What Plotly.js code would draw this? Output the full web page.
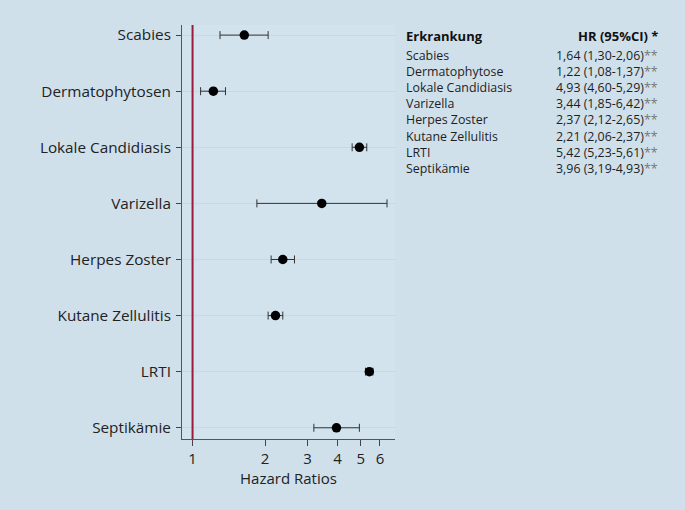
<!DOCTYPE html>
<html>
<head>
<meta charset="utf-8">
<script src="https://cdn.plot.ly/plotly-3.0.1.min.js"></script>
<style>html,body{margin:0;padding:0;background:#cfe0eb;}#chart{width:685px;height:510px;}</style>
</head>
<body>
<div id="chart"></div>
<script>
var categories = ["Scabies","Dermatophytosen","Lokale Candidiasis","Varizella","Herpes Zoster","Kutane Zellulitis","LRTI","Septikämie"];
var tableNames = ["Scabies","Dermatophytose","Lokale Candidiasis","Varizella","Herpes Zoster","Kutane Zellulitis","LRTI","Septikämie"];
var hr = [1.64, 1.22, 4.93, 3.44, 2.37, 2.21, 5.42, 3.96];
var ciLow = [1.30, 1.08, 4.60, 1.85, 2.12, 2.06, 5.23, 3.19];
var ciHigh = [2.06, 1.37, 5.29, 6.42, 2.65, 2.37, 5.61, 4.93];
var xTicks = [1, 2, 3, 4, 5, 6];

function fmt(v){ return v.toFixed(2).replace('.', ','); }

var plus = hr.map(function(v,i){ return ciHigh[i]-v; });
var minus = hr.map(function(v,i){ return v-ciLow[i]; });

var trace = {
  type: 'scatter', mode: 'markers',
  x: hr, y: categories,
  marker: {color: '#000', size: 9.5},
  error_x: {type: 'data', symmetric: false, array: plus, arrayminus: minus,
            color: '#333', thickness: 1, width: 4},
  hoverinfo: 'skip', showlegend: false
};

var fontFam = '"Open Sans", "Noto Sans", sans-serif';
var L = 182, R = 395, T = 25, B = 439;
function px2x(p){ return (p - L) / (R - L); }
function py2y(p){ return (B - p) / (B - T); }

var tfs = 12.4;
var leftLines = tableNames.join('<br>');
var rightLines = tableNames.map(function(n, i){
  return fmt(hr[i]) + ' (' + fmt(ciLow[i]) + '-' + fmt(ciHigh[i]) + ')<span style="color:#777">**</span>';
}).join('<br>');

var annotations = [
  {xref:'paper', yref:'paper', x: px2x(404), y: py2y(36), xanchor:'left', yanchor:'middle',
   text:'<b>Erkrankung</b>', showarrow:false, font:{size:13, color:'#111', family:fontFam}},
  {xref:'paper', yref:'paper', x: px2x(660), y: py2y(36), xanchor:'right', yanchor:'middle',
   text:'<b>HR (95%CI) *</b>', showarrow:false, font:{size:13, color:'#111', family:fontFam}},
  {xref:'paper', yref:'paper', x: px2x(404), y: py2y(44.5), xanchor:'left', yanchor:'top', align:'left',
   text: leftLines, showarrow:false, font:{size:tfs, color:'#1e1e1e', family:fontFam}},
  {xref:'paper', yref:'paper', x: px2x(660), y: py2y(44.5), xanchor:'right', yanchor:'top', align:'right',
   text: rightLines, showarrow:false, font:{size:tfs, color:'#1e1e1e', family:fontFam}}
];

var layout = {
  width: 685, height: 510,
  paper_bgcolor: '#cfe0eb', plot_bgcolor: '#d2e3ee',
  margin: {l: L, r: 685 - R, t: T, b: 510 - B, pad: 0},
  font: {family: fontFam, color: '#222'},
  xaxis: {
    type: 'log', range: [Math.log10(0.904), Math.log10(6.93)],
    tickvals: xTicks, ticktext: xTicks.map(String),
    ticks: 'outside', ticklen: 6, tickcolor: '#444', tickwidth: 1,
    showline: true, linecolor: '#555', linewidth: 1,
    showgrid: false, zeroline: false,
    tickfont: {size: 15, color: '#222'},
    title: {text: 'Hazard Ratios', font: {size: 15, color: '#222'}, standoff: 2}
  },
  yaxis: {
    type: 'category', categoryorder: 'array', categoryarray: categories,
    range: [7.2, -0.18],
    ticks: 'outside', ticklen: 5, tickcolor: '#444', tickwidth: 1,
    showline: true, linecolor: '#555', linewidth: 1,
    showgrid: true, gridcolor: '#c5d9e5', gridwidth: 1,
    zeroline: false, ticklabelstandoff: 2,
    tickfont: {size: 15.3, color: '#222'}
  },
  shapes: [{type: 'line', xref: 'x', yref: 'paper', x0: 1, x1: 1, y0: 0, y1: 1,
            line: {color: '#9b1b3d', width: 2}, layer: 'above'}],
  annotations: annotations
};

Plotly.newPlot('chart', [trace], layout, {displayModeBar: false, staticPlot: true});
</script>
</body>
</html>
